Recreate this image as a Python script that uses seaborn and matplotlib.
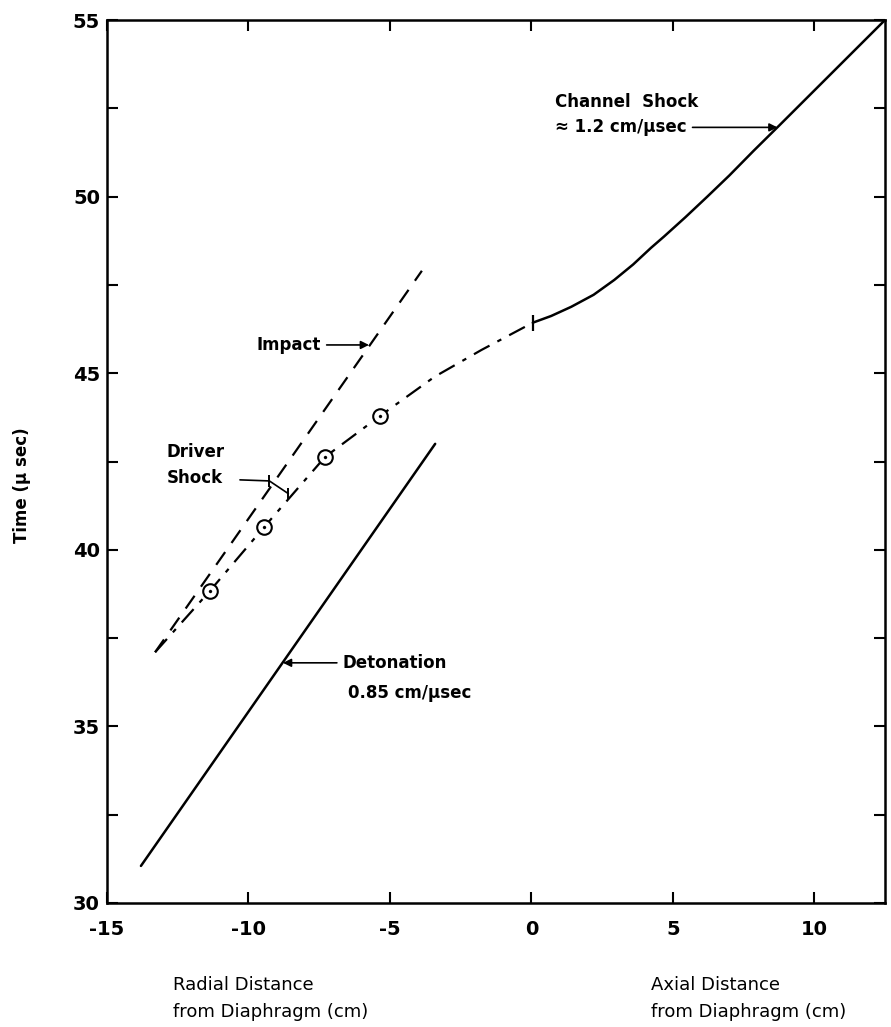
import numpy as np
import pandas as pd
import matplotlib
matplotlib.use('Agg')
import matplotlib.pyplot as plt
import seaborn as sns

# Values (x in cm, t in microseconds)
detonation_x = [-13.8, -3.4]
detonation_t = [31.05, 43.0]

impact_x = [-13.3, -3.87]
impact_t = [37.1, 47.9]

# driver shock (dash-dot) up to the diaphragm
driver_x = [-13.3, -11.37, -9.44, -7.29, -5.35, -3.42, -1.76, 0.05]
driver_t = [37.1, 38.83, 40.65, 42.63, 43.79, 44.9, 45.66, 46.43]

# measured points (circles)
points_x = [-11.37, -9.44, -7.29, -5.35]
points_t = [38.83, 40.65, 42.63, 43.79]

# channel shock (solid) past the diaphragm
channel_x = [0.05, 0.7, 1.41, 2.2, 2.93, 3.6, 4.23, 4.69, 5.45, 6.22, 7.0, 7.86, 8.77, 12.5]
channel_t = [46.43, 46.62, 46.88, 47.22, 47.64, 48.08, 48.55, 48.87, 49.42, 50.0, 50.6, 51.3, 52.02, 55.0]

x_ticks = [-15, -10, -5, 0, 5, 10]
x_tick_labels = ['-15', '-10', '-5', '0', '5', '10']
y_ticks = [30, 35, 40, 45, 50, 55]

sns.set_style('ticks')
plt.rcParams['font.family'] = ['DejaVu Sans']
plt.rcParams['axes.unicode_minus'] = False
plt.rcParams['text.color'] = 'black'
plt.rcParams['xtick.color'] = 'black'
plt.rcParams['ytick.color'] = 'black'
plt.rcParams['axes.edgecolor'] = 'black'

fig = plt.figure(figsize=(8.91, 10.27), dpi=100)
ax = fig.add_axes([107 / 891, 1 - 903 / 1027, 778 / 891, 883 / 1027])

det = pd.DataFrame({'x': detonation_x, 't': detonation_t})
imp = pd.DataFrame({'x': impact_x, 't': impact_t})
drv = pd.DataFrame({'x': driver_x, 't': driver_t})
chn = pd.DataFrame({'x': channel_x, 't': channel_t})
pts = pd.DataFrame({'x': points_x, 't': points_t})

sns.lineplot(data=det, x='x', y='t', sort=False, estimator=None, color='black', lw=1.8, ax=ax)
sns.lineplot(data=imp, x='x', y='t', sort=False, estimator=None, color='black', lw=1.6,
             linestyle=(0, (7, 5)), ax=ax)
sns.lineplot(data=drv, x='x', y='t', sort=False, estimator=None, color='black', lw=1.6,
             linestyle=(0, (8, 4, 2, 4)), ax=ax)
sns.lineplot(data=chn, x='x', y='t', sort=False, estimator=None, color='black', lw=1.8, ax=ax)

# circles with a dot in the middle
sns.scatterplot(data=pts, x='x', y='t', marker='o', s=110, facecolor='white',
                edgecolor='black', linewidth=1.5, zorder=5, ax=ax)
sns.scatterplot(data=pts, x='x', y='t', marker='o', s=5, color='black',
                edgecolor='black', zorder=6, ax=ax)

# small tick across the curve at the diaphragm
ax.plot([driver_x[-1]], [driver_t[-1]], marker='|', ms=12, mew=1.6, color='black')

ax.set_xlim(-15, 12.5)
ax.set_ylim(30, 55)
ax.set_xticks(x_ticks)
ax.set_xticklabels(x_tick_labels)
ax.set_yticks(y_ticks)
ax.set_yticks([32.5, 37.5, 42.5, 47.5, 52.5], minor=True)
ax.tick_params(axis='both', which='both', direction='in', top=True, right=True,
               width=1.5, labelsize=14, colors='black')
ax.tick_params(axis='both', which='major', length=8)
ax.tick_params(axis='both', which='minor', length=8)
ax.tick_params(axis='x', pad=12)
ax.tick_params(axis='y', pad=5)
for lab in ax.get_xticklabels() + ax.get_yticklabels():
    lab.set_fontweight('bold')
for sp in ax.spines.values():
    sp.set_linewidth(1.8)
    sp.set_color('black')
    sp.set_visible(True)
ax.set_xlabel('')
ax.set_ylabel('')

arrow = dict(arrowstyle='-|>', color='black', lw=1.2, shrinkA=2, shrinkB=0, mutation_scale=12)
fs = 12

# annotations
ax.annotate('Impact', xy=(-5.74, 45.8), xytext=(-7.45, 45.8), ha='right', va='center',
            fontsize=fs, fontweight='bold', arrowprops=arrow)

ax.text(-12.9, 42.77, 'Driver', ha='left', va='center', fontsize=fs, fontweight='bold')
ax.text(-12.9, 42.03, 'Shock', ha='left', va='center', fontsize=fs, fontweight='bold')
ax.plot([-10.3, -9.26, -8.59], [41.98, 41.95, 41.59], color='black', lw=1.2)
ax.plot([-9.26, -8.59], [41.95, 41.59], ls='none', marker='|', ms=9, mew=1.4, color='black')

ax.annotate('Detonation', xy=(-8.78, 36.8), xytext=(-6.66, 36.8), ha='left', va='center',
            fontsize=fs, fontweight='bold', arrowprops=arrow)
ax.text(-6.49, 35.95, '0.85 cm/\u03bcsec', ha='left', va='center', fontsize=fs, fontweight='bold')

ax.text(0.83, 52.68, 'Channel  Shock', ha='left', va='center', fontsize=fs, fontweight='bold')
ax.annotate('\u2248 1.2 cm/\u03bcsec', xy=(8.7, 51.96), xytext=(0.83, 51.96), ha='left', va='center',
            fontsize=fs, fontweight='bold', arrowprops=arrow)

# axis titles
fig.text(22 / 891, 1 - 485 / 1027, 'Time (\u03bc sec)', rotation=90, ha='center', va='center',
         fontsize=12, fontweight='bold')
fig.text(173 / 891, 1 - 985 / 1027, 'Radial Distance', ha='left', va='center', fontsize=13)
fig.text(173 / 891, 1 - 1012 / 1027, 'from Diaphragm (cm)', ha='left', va='center', fontsize=13)
fig.text(651 / 891, 1 - 985 / 1027, 'Axial Distance', ha='left', va='center', fontsize=13)
fig.text(651 / 891, 1 - 1012 / 1027, 'from Diaphragm (cm)', ha='left', va='center', fontsize=13)

fig.savefig('out.png', dpi=100, facecolor='white')
